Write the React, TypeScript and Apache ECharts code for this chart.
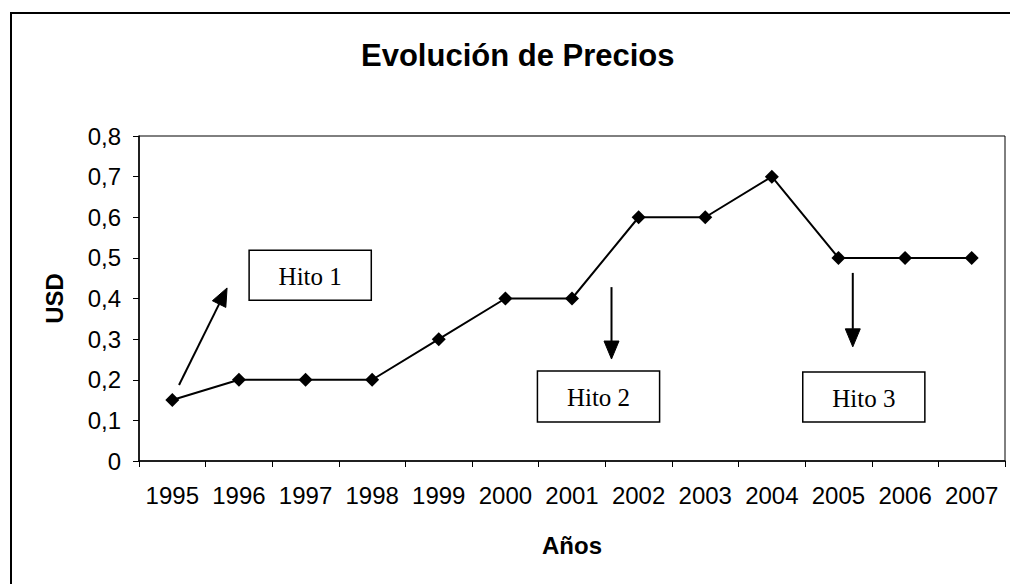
import React, { useEffect, useRef } from "react";
import * as echarts from "echarts";

const years = ["1995", "1996", "1997", "1998", "1999", "2000", "2001", "2002", "2003", "2004", "2005", "2006", "2007"];
const prices = [0.15, 0.2, 0.2, 0.2, 0.3, 0.4, 0.4, 0.6, 0.6, 0.7, 0.5, 0.5, 0.5];
const yMin = 0;
const yMax = 0.8;
const yStep = 0.1;
const titleText = "Evolución de Precios";
const xName = "Años";
const yName = "USD";
const milestoneLabels = ["Hito 1", "Hito 2", "Hito 3"];

// annotation layout in data space: category index (fractional), value
const annotationLayout = [
  { box: [1.153, 2.987, 0.519, 0.396], arrow: [[0.101, 0.187], [0.822, 0.426]] },
  { box: [5.481, 7.315, 0.2215, 0.096], arrow: [[6.593, 0.428], [6.593, 0.251]] },
  { box: [9.464, 11.297, 0.219, 0.096], arrow: [[10.215, 0.463], [10.215, 0.281]] },
];

const SANS = "'Liberation Sans', Arial, sans-serif";
const SERIF = "'Liberation Serif', 'Times New Roman', serif";

export default function App() {
  const ref = useRef<HTMLDivElement>(null);
  useEffect(() => {
    document.body.style.margin = "0";
    const chart = echarts.init(ref.current!, null, { renderer: "svg" });
    chart.setOption({
      animation: false,
      backgroundColor: "#ffffff",
      title: {
        text: titleText,
        left: 356,
        top: 35,
        textStyle: { fontFamily: SANS, fontSize: 31, fontWeight: "bold", color: "#000" },
      },
      grid: {
        left: 139,
        right: 5,
        top: 136,
        bottom: 123,
        show: true,
        borderColor: "#000",
        borderWidth: 1,
        containLabel: false,
      },
      xAxis: {
        type: "category",
        data: years,
        boundaryGap: true,
        name: xName,
        nameLocation: "middle",
        nameGap: 72,
        nameTextStyle: { fontFamily: SANS, fontSize: 24, fontWeight: "bold", color: "#000" },
        axisLine: { lineStyle: { color: "#000", width: 1.5 } },
        axisTick: { show: true, length: 6, interval: 0, lineStyle: { color: "#000" } },
        axisLabel: { interval: 0, hideOverlap: false, margin: 22, fontFamily: SANS, fontSize: 24, color: "#000" },
        splitLine: { show: false },
      },
      yAxis: {
        type: "value",
        min: yMin,
        max: yMax,
        interval: yStep,
        name: yName,
        nameLocation: "middle",
        nameGap: 73,
        nameTextStyle: { fontFamily: SANS, fontSize: 24, fontWeight: "bold", color: "#000" },
        axisLine: { show: true, lineStyle: { color: "#000", width: 1.5 } },
        axisTick: { show: true, length: 6, lineStyle: { color: "#000" } },
        axisLabel: {
          margin: 18,
          fontFamily: SANS,
          fontSize: 24,
          color: "#000",
          formatter: (v: number) => (v === 0 ? "0" : v.toFixed(1).replace(".", ",")),
        },
        splitLine: { show: false },
      },
      series: [
        {
          type: "line",
          data: prices,
          symbol: "diamond",
          symbolSize: 14,
          showSymbol: true,
          lineStyle: { color: "#000", width: 2 },
          itemStyle: { color: "#000" },
        },
      ],
    });

    const p0 = chart.convertToPixel({ xAxisIndex: 0 }, years[0]) as number;
    const p1 = chart.convertToPixel({ xAxisIndex: 0 }, years[1]) as number;
    const step = p1 - p0;
    const px = (i: number) => p0 + i * step;
    const py = (v: number) => chart.convertToPixel({ yAxisIndex: 0 }, v) as number;

    const graphics: any[] = [
      {
        type: "line",
        shape: { x1: 11, y1: 13, x2: 11, y2: 600 },
        style: { stroke: "#000", lineWidth: 2 },
        z: 100,
        silent: true,
      },
      {
        type: "line",
        shape: { x1: 10, y1: 13, x2: 1020, y2: 13 },
        style: { stroke: "#000", lineWidth: 2 },
        z: 100,
        silent: true,
      },
    ];
    annotationLayout.forEach((a, k) => {
      const [i0, i1, vTop, vBot] = a.box;
      const bx = px(i0), bx2 = px(i1), by = py(vTop), by2 = py(vBot);
      graphics.push({
        type: "rect",
        shape: { x: bx, y: by, width: bx2 - bx, height: by2 - by },
        style: { fill: "#fff", stroke: "#000", lineWidth: 1.5 },
        z: 100,
      });
      graphics.push({
        type: "text",
        x: (bx + bx2) / 2,
        y: (by + by2) / 2 + 1,
        style: {
          text: milestoneLabels[k],
          font: `25px ${SERIF}`,
          fill: "#000",
          align: "center",
          verticalAlign: "middle",
        },
        z: 101,
      });
      const [t, h] = a.arrow;
      const tx = px(t[0]), ty = py(t[1]), hx = px(h[0]), hy = py(h[1]);
      const dx = hx - tx, dy = hy - ty;
      const len = Math.sqrt(dx * dx + dy * dy);
      const ux = dx / len, uy = dy / len;
      const L = 18, W = 15;
      const baseX = hx - ux * L, baseY = hy - uy * L;
      graphics.push({
        type: "line",
        shape: { x1: tx, y1: ty, x2: baseX, y2: baseY },
        style: { stroke: "#000", lineWidth: 2 },
        z: 100,
      });
      graphics.push({
        type: "polygon",
        shape: {
          points: [
            [hx, hy],
            [baseX - uy * (W / 2), baseY + ux * (W / 2)],
            [baseX + uy * (W / 2), baseY - ux * (W / 2)],
          ],
        },
        style: { fill: "#000", stroke: "#000", lineWidth: 1 },
        z: 100,
      });
    });
    chart.setOption({ graphic: graphics });

    return () => chart.dispose();
  }, []);
  return <div ref={ref} style={{ width: 1010, height: 584 }} />;
}
